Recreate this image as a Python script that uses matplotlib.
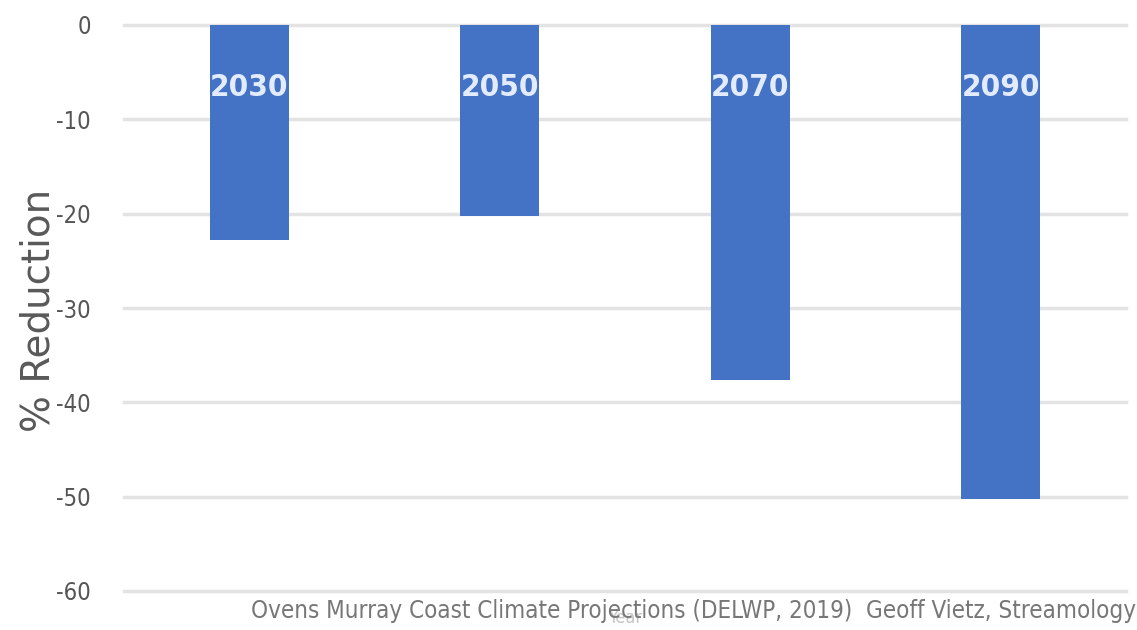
import matplotlib.pyplot as plt

# Data
years = ['2030', '2050', '2070', '2090']
reduction = [-22.8, -20.3, -37.6, -50.3]
yticks = [0, -10, -20, -30, -40, -50, -60]

fig = plt.figure(figsize=(11.37, 6.3), dpi=100)
ax = fig.add_axes([124 / 1137, 1 - 591 / 630, 1002 / 1137, 566 / 630])

x = range(len(years))
ax.bar(x, reduction, width=0.315, color='#4472C4', zorder=3)

# year labels inside the bars
for xi, lab in zip(x, years):
    ax.text(xi, -6.6, lab, ha='center', va='center', color='#e3ecff',
            fontsize=22.5, fontweight='bold', family='DejaVu Sans',
            stretch='condensed', zorder=4)

ax.set_xlim(-0.5, 3.5)
ax.set_ylim(-60, 0)
ax.set_yticks(yticks)
ax.set_yticklabels([str(t) for t in yticks], family='DejaVu Sans',
                   stretch='condensed', fontsize=17, color='#555555')
ax.set_xticks([])
ax.grid(axis='y', color='#e3e3e3', linewidth=2.5, zorder=0)
for ln in ax.get_ygridlines():
    ln.set_clip_on(False)
ax.tick_params(axis='y', length=0, pad=24)
for s in ax.spines.values():
    s.set_visible(False)

fig.text(0.034, 1 - 310 / 630, '% Reduction', rotation=90, ha='center', va='center',
         fontsize=28, color='#595959', family='DejaVu Sans')
fig.text(625 / 1137, 1 - 618 / 630, 'Year', ha='center', va='center',
         fontsize=13, color='#c4c4c4', family='DejaVu Sans', stretch='condensed')
fig.text(1136 / 1137, 1 - 611 / 630,
         'Ovens Murray Coast Climate Projections (DELWP, 2019)  Geoff Vietz, Streamology',
         ha='right', va='center', fontsize=17.3, color='#777777',
         family='DejaVu Sans', stretch='condensed')

fig.savefig('out.png', dpi=100)
